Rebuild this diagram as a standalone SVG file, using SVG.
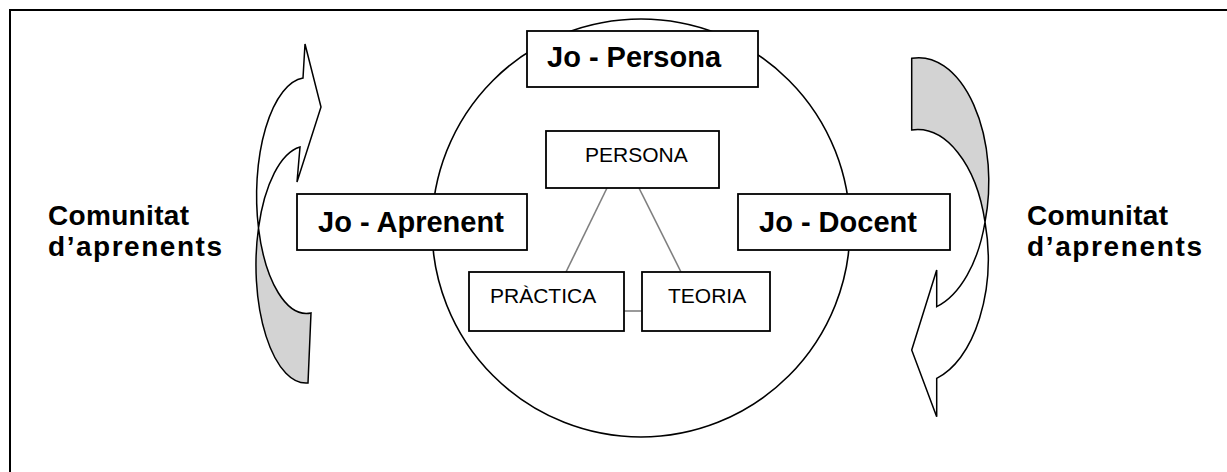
<svg xmlns="http://www.w3.org/2000/svg" width="1227" height="472" viewBox="0 0 1227 472">
<style>
.frame{fill:none;stroke:#000;stroke-width:2}
.circ{fill:#fff;stroke:#000;stroke-width:1.6}
.box{fill:#fff;stroke:#000;stroke-width:1.8}
.big{font-family:"Liberation Sans",Arial,sans-serif;font-weight:bold;font-size:29px;fill:#000}
.com{font-family:"Liberation Sans",Arial,sans-serif;font-weight:bold;font-size:28px;fill:#000}
.small{font-family:"Liberation Sans",Arial,sans-serif;font-size:21px;fill:#000}
.link{stroke:#808080;stroke-width:1.6;fill:none}
.arw{stroke:#000;stroke-width:1.5;stroke-linejoin:miter}
.shade{fill:#d3d3d3}
.lite{fill:#fff}
</style>
<rect width="1227" height="472" fill="#fff"/>
<path class="frame" d="M10,472 V10 H1227"/>
<g id="circle"><circle class="circ" cx="641" cy="228" r="209"/></g>
<g id="arrow-left">
<path class="arw shade" d="M308,383 A50,118 0 0 1 258.5,228 A50,118 0 0 0 311,313 Z"/>
<path class="arw lite" d="M258.5,228 A50,118 0 0 1 303,78 L305,44 L321,107 L297,182 L300,147 A50,118 0 0 0 258.5,228 Z"/>
</g>
<g id="arrow-right">
<path class="arw shade" d="M911.7,58.3 A70,124 0 0 1 985,222 A70,124 0 0 0 911.7,130 Z"/>
<path class="arw lite" d="M985,222 A70,124 0 0 1 936.7,378.3 L936.7,416.7 L911.7,350 L936.7,270 L936.7,306.7 A70,124 0 0 0 985,222 Z"/>
</g>
<g id="connectors">
<line class="link" x1="607" y1="188" x2="566" y2="272"/>
<line class="link" x1="639" y1="188" x2="681" y2="272"/>
<line class="link" x1="624" y1="311" x2="642" y2="311"/>
</g>
<g id="jo-persona">
<rect class="box" x="527" y="31" width="231" height="56"/>
<text class="big" x="547" y="67">Jo - Persona</text>
</g>
<g id="jo-aprenent">
<rect class="box" x="297" y="194" width="230" height="56"/>
<text class="big" x="318" y="232">Jo - Aprenent</text>
</g>
<g id="jo-docent">
<rect class="box" x="738" y="194" width="212" height="56"/>
<text class="big" x="759" y="232">Jo - Docent</text>
</g>
<g id="persona">
<rect class="box" x="546" y="131" width="173" height="57"/>
<text class="small" x="585" y="162">PERSONA</text>
</g>
<g id="practica">
<rect class="box" x="469" y="272" width="155" height="59"/>
<text class="small" x="490" y="303">PRÀCTICA</text>
</g>
<g id="teoria">
<rect class="box" x="642" y="272" width="128" height="59"/>
<text class="small" x="668" y="303">TEORIA</text>
</g>
<g id="comunitat-left">
<text class="com" x="48" y="224.5" textLength="141" lengthAdjust="spacing">Comunitat</text>
<text class="com" x="48" y="256" textLength="174" lengthAdjust="spacing">d’aprenents</text>
</g>
<g id="comunitat-right">
<text class="com" x="1027" y="224.5" textLength="141" lengthAdjust="spacing">Comunitat</text>
<text class="com" x="1027" y="256" textLength="175" lengthAdjust="spacing">d’aprenents</text>
</g>
</svg>
